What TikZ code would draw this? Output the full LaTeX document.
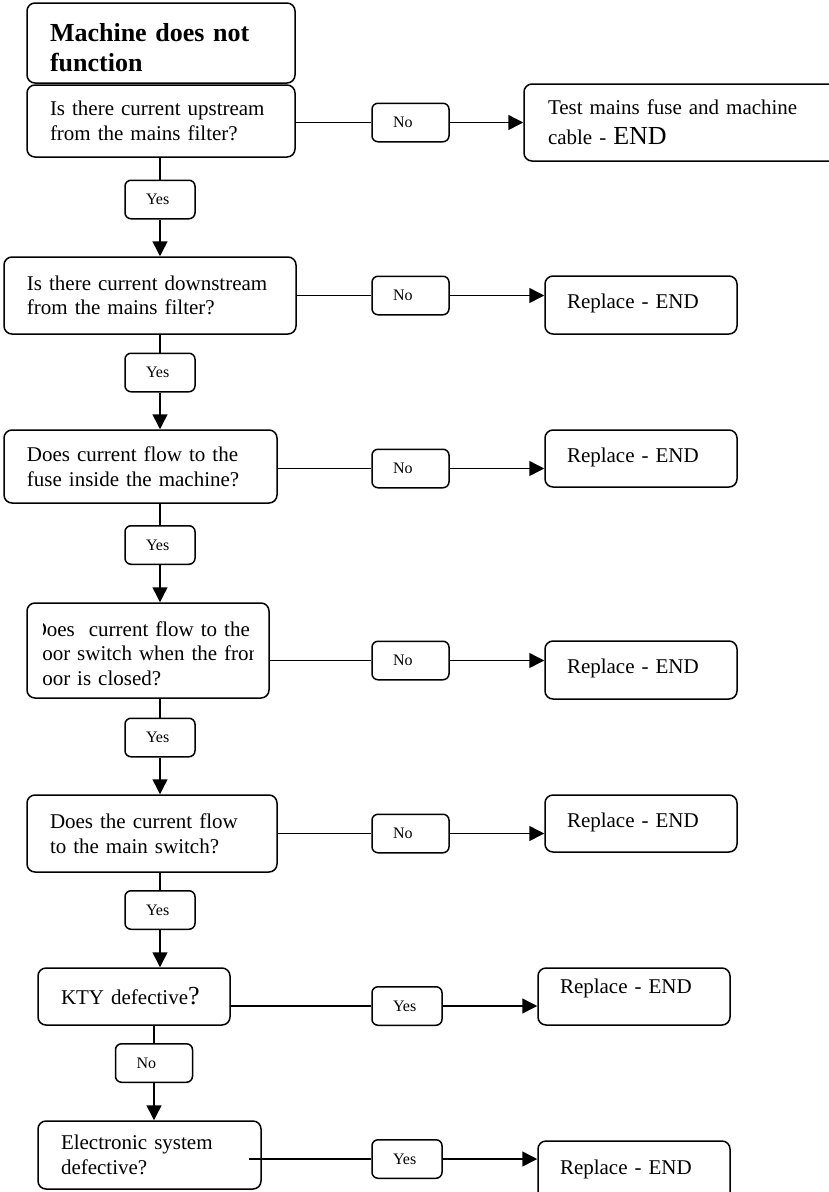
\documentclass[tikz,border=0pt]{standalone}
\usepackage{fontspec}
\setmainfont{Liberation Serif}
\usetikzlibrary{arrows.meta}

\begin{document}
\begin{tikzpicture}[x=1pt, y=-1pt,
        question/.style={rectangle, rounded corners=8pt, draw, line width=1.5pt, inner xsep=23pt, inner ysep=2pt, align=left, font=\fontsize{21}{24.5}\selectfont},
        outcome/.style={question, inner xsep=22pt, text depth=7pt, text width=148pt},
        answer/.style={rectangle, rounded corners=6pt, draw, line width=1.5pt, inner xsep=21pt, inner ysep=2pt, minimum height=38.5pt, align=left, font=\fontsize{16}{18}\selectfont},
        link/.style={line width=1.5pt},
        arrowto/.style={-{Triangle[length=15pt, width=15pt]}, line width=1.5pt}]
        \useasboundingbox (0,0) rectangle (828,1192);

        \node[question, font=\fontsize{26}{30}\selectfont\bfseries, text width=222pt, text height=28pt, minimum height=80pt] (title) at (161,43) {Machine does not\\function};
        \node[question, text width=222pt, minimum height=72pt] (q1) at (161,121) {Is there current upstream\\from the mains filter?};
        \node[question, text width=246pt, minimum height=77pt] (q2) at (150,295.5) {Is there current downstream\\from the mains filter?};
        \node[question, text width=227pt, minimum height=73pt] (q3) at (140.5,466.5) {Does current flow to the\\fuse inside the machine?};
        \node[question, minimum width=242pt, minimum height=95pt] (q4) at (148,650.5) {};
        \begin{scope}
            \clip (43,603) rectangle (253,698);
            \node[question, draw=none, inner sep=0pt, text width=240pt, anchor=north west] (q4txt) at (31,620.7) {Does\ \ current flow to the\\door switch when the front\\door is closed?};
        \end{scope}
        \node[question, text width=204pt, minimum height=77pt] (q5) at (152,833.5) {Does the current flow\\to the main switch?};
        \node[question, text width=146pt, minimum height=57pt] (kty) at (134,996.5) {KTY defective{\fontsize{26}{26}\selectfont ?}};
        \node[question, text width=177pt, minimum height=68pt] (es) at (149.5,1155) {Electronic system\\defective?};

        \node[question, font=\fontsize{21}{30}\selectfont, inner xsep=24pt, text width=284pt, minimum height=77pt] (test) at (690,122.5) {Test mains fuse and machine\\cable - {\fontsize{26}{30}\selectfont END}};
        \node[outcome, minimum height=58pt] (rep2) at (641,305) {Replace - END};
        \node[outcome, minimum height=57pt] (rep3) at (641,458.5) {Replace - END};
        \node[outcome, minimum height=58pt] (rep4) at (641,670) {Replace - END};
        \node[outcome, minimum height=57pt] (rep5) at (641,823.5) {Replace - END};
        \node[outcome, minimum height=57pt, text depth=20pt] (rep6) at (634,996.5) {Replace - END};
        \node[outcome, minimum height=60pt] (rep7) at (634,1171) {Replace - END};

        \node[answer, text width=35pt] (no1) at (410.5,122.5) {No};
        \node[answer, text width=35pt] (no2) at (410.5,295.5) {No};
        \node[answer, text width=35pt] (no3) at (410.5,468.5) {No};
        \node[answer, text width=35pt] (no4) at (410.5,660.5) {No};
        \node[answer, text width=35pt] (no5) at (410.5,833.5) {No};
        \node[answer, text width=28pt] (yes6) at (407,1006) {Yes};
        \node[answer, text width=28pt] (yes7) at (407,1159) {Yes};

        \node[answer, text width=28pt] (yes1) at (160,199.5) {Yes};
        \node[answer, text width=28pt] (yes2) at (160,372.5) {Yes};
        \node[answer, text width=28pt] (yes3) at (160,545) {Yes};
        \node[answer, text width=28pt] (yes4) at (160,737.5) {Yes};
        \node[answer, text width=28pt] (yes5) at (160,910) {Yes};
        \node[answer, text width=35pt] (no7) at (154,1063) {No};

        \draw[link] (no1.west -| q1.east) -- (no1.west);
        \draw[arrowto] (no1.east) -- (no1.east -| test.west);
        \draw[link] (no2.west -| q2.east) -- (no2.west);
        \draw[arrowto] (no2.east) -- (no2.east -| rep2.west);
        \draw[link] (no3.west -| q3.east) -- (no3.west);
        \draw[arrowto] (no3.east) -- (no3.east -| rep3.west);
        \draw[link] (no4.west -| q4.east) -- (no4.west);
        \draw[arrowto] (no4.east) -- (no4.east -| rep4.west);
        \draw[link] (no5.west -| q5.east) -- (no5.west);
        \draw[arrowto] (no5.east) -- (no5.east -| rep5.west);
        \draw[link] (yes6.west -| kty.east) -- (yes6.west);
        \draw[arrowto] (yes6.east) -- (yes6.east -| rep6.west);
        \coordinate (esout) at (249,1159);
        \draw[link] (esout) -- (yes7.west);
        \draw[arrowto] (yes7.east) -- (yes7.east -| rep7.west);

        \draw[link] (yes1 |- q1.south) -- (yes1.north);
        \draw[arrowto] (yes1.south) -- (yes1 |- q2.north);
        \draw[link] (yes2 |- q2.south) -- (yes2.north);
        \draw[arrowto] (yes2.south) -- (yes2 |- q3.north);
        \draw[link] (yes3 |- q3.south) -- (yes3.north);
        \draw[arrowto] (yes3.south) -- (yes3 |- q4.north);
        \draw[link] (yes4 |- q4.south) -- (yes4.north);
        \draw[arrowto] (yes4.south) -- (yes4 |- q5.north);
        \draw[link] (yes5 |- q5.south) -- (yes5.north);
        \draw[arrowto] (yes5.south) -- (yes5 |- kty.north);
        \draw[link] (no7 |- kty.south) -- (no7.north);
        \draw[arrowto] (no7.south) -- (no7 |- es.north);
\end{tikzpicture}
\end{document}
